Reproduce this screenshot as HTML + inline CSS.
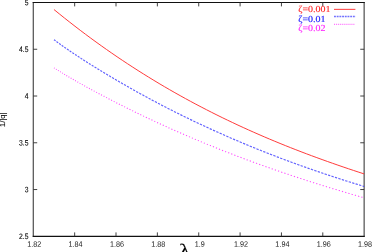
<!DOCTYPE html>
<html><head><meta charset="utf-8"><style>
html,body{margin:0;padding:0;background:#fff;}
body{width:372px;height:252px;overflow:hidden;}
svg{display:block;will-change:transform;}
.s{font-family:"Liberation Sans",sans-serif;font-size:7.85px;fill:#000;stroke:#000;stroke-width:0.1px;}
.x{stroke:none;fill:#1a1a1a;}
.k{font-family:"Liberation Serif",serif;font-size:9.2px;}
</style></head><body>
<svg width="372" height="252" viewBox="0 0 372 252">
<rect width="372" height="252" fill="#fff"/>
<path d="M33.3,2.0 V236.8 M364.15,2.0 V236.8" fill="none" stroke="#555" stroke-width="1.25"/>
<path d="M32.699999999999996,2.5 H364.75 M32.699999999999996,236.3 H364.75" fill="none" stroke="#111" stroke-width="1.15"/>
<path d="M74.66,236.3 v-3.9 M74.66,2.5 v3.9 M116.01,236.3 v-3.9 M116.01,2.5 v3.9 M157.37,236.3 v-3.9 M157.37,2.5 v3.9 M198.72,236.3 v-3.9 M198.72,2.5 v3.9 M240.08,236.3 v-3.9 M240.08,2.5 v3.9 M281.44,236.3 v-3.9 M281.44,2.5 v3.9 M322.79,236.3 v-3.9 M322.79,2.5 v3.9 M33.3,189.54 h3.9 M364.15,189.54 h-3.9 M33.3,142.78 h3.9 M364.15,142.78 h-3.9 M33.3,96.02 h3.9 M364.15,96.02 h-3.9 M33.3,49.26 h3.9 M364.15,49.26 h-3.9 " stroke="#2e2e2e" stroke-width="0.9" fill="none"/>
<g class="s">
<text class="x" transform="translate(34.25,246.7) rotate(0.06) scale(0.92,1)" text-anchor="middle">1.82</text>
<text class="x" transform="translate(75.61,246.7) rotate(0.06) scale(0.92,1)" text-anchor="middle">1.84</text>
<text class="x" transform="translate(116.96,246.7) rotate(0.06) scale(0.92,1)" text-anchor="middle">1.86</text>
<text class="x" transform="translate(158.32,246.7) rotate(0.06) scale(0.92,1)" text-anchor="middle">1.88</text>
<text class="x" transform="translate(199.67,246.7) rotate(0.06) scale(0.92,1)" text-anchor="middle">1.9</text>
<text class="x" transform="translate(241.03,246.7) rotate(0.06) scale(0.92,1)" text-anchor="middle">1.92</text>
<text class="x" transform="translate(282.39,246.7) rotate(0.06) scale(0.92,1)" text-anchor="middle">1.94</text>
<text class="x" transform="translate(323.74,246.7) rotate(0.06) scale(0.92,1)" text-anchor="middle">1.96</text>
<text class="x" transform="translate(365.10,246.7) rotate(0.06) scale(0.92,1)" text-anchor="middle">1.98</text>
<text transform="translate(28.45,239.05) rotate(0.06) scale(0.865,1)" text-anchor="end">2.5</text>
<text transform="translate(28.45,192.29) rotate(0.06) scale(0.865,1)" text-anchor="end">3</text>
<text transform="translate(28.45,145.53) rotate(0.06) scale(0.865,1)" text-anchor="end">3.5</text>
<text transform="translate(28.45,98.77) rotate(0.06) scale(0.865,1)" text-anchor="end">4</text>
<text transform="translate(28.45,52.01) rotate(0.06) scale(0.865,1)" text-anchor="end">4.5</text>
<text transform="translate(28.45,5.20) rotate(0.06) scale(0.865,1)" text-anchor="end">5</text>
<text transform="translate(4.9,119.7) rotate(-90) scale(1.08,1)" text-anchor="middle" style="font-size:7px;stroke-width:0.1px">1/|q|</text>
</g>
<text transform="translate(184.5,256.2) rotate(0.06) scale(1.28,1)" text-anchor="middle" style="font-family:'Liberation Serif',serif;font-size:18px;fill:#000;stroke:#000;stroke-width:0.08px">λ</text>
<path d="M53.98,9.54 L59.24,13.82 L64.49,18.04 L69.75,22.19 L75.01,26.28 L80.26,30.31 L85.52,34.27 L90.78,38.17 L96.04,42.00 L101.29,45.78 L106.55,49.50 L111.81,53.15 L117.06,56.75 L122.32,60.29 L127.58,63.78 L132.84,67.20 L138.09,70.57 L143.35,73.89 L148.61,77.15 L153.86,80.36 L159.12,83.52 L164.38,86.63 L169.64,89.68 L174.89,92.69 L180.15,95.64 L185.41,98.55 L190.66,101.41 L195.92,104.22 L201.18,106.98 L206.44,109.70 L211.69,112.38 L216.95,115.01 L222.21,117.60 L227.46,120.14 L232.72,122.64 L237.98,125.11 L243.24,127.53 L248.49,129.91 L253.75,132.26 L259.01,134.56 L264.26,136.83 L269.52,139.07 L274.78,141.26 L280.04,143.43 L285.29,145.55 L290.55,147.65 L295.81,149.71 L301.06,151.74 L306.32,153.74 L311.58,155.71 L316.84,157.65 L322.09,159.56 L327.35,161.45 L332.61,163.31 L337.86,165.14 L343.12,166.94 L348.38,168.72 L353.64,170.48 L358.89,172.21 L364.15,173.92" stroke="#ff3030" stroke-width="0.95" fill="none"/>
<path d="M53.98,39.67L54.79,40.28L55.61,40.90M56.53,41.58L57.35,42.19L58.18,42.79M59.10,43.46L59.93,44.06L60.76,44.66M61.70,45.33L62.54,45.92L63.38,46.51M64.32,47.17L65.17,47.76L66.01,48.35M66.96,49.00L67.82,49.59L68.67,50.17M69.63,50.82L70.49,51.41L71.35,51.99M72.32,52.64L73.18,53.22L74.05,53.79M75.02,54.44L75.90,55.02L76.77,55.59M77.75,56.24L78.63,56.81L79.52,57.39M80.51,58.03L81.39,58.61L82.28,59.18M83.28,59.82L84.17,60.40L85.06,60.97M86.07,61.61L86.97,62.18L87.87,62.75M88.88,63.39L89.78,63.96L90.69,64.53M91.71,65.17L92.62,65.74L93.53,66.31M94.56,66.95L95.47,67.51L96.39,68.08M97.42,68.72L98.35,69.29L99.27,69.85M100.31,70.49L101.24,71.06L102.17,71.62M103.21,72.26L104.14,72.82L105.08,73.39M106.13,74.02L107.07,74.58L108.01,75.15M109.07,75.78L110.01,76.34L110.95,76.90M112.02,77.53L112.97,78.10L113.92,78.66M114.99,79.29L115.94,79.85L116.90,80.41M117.97,81.03L118.93,81.59L119.89,82.15M120.97,82.78L121.93,83.33L122.90,83.89M123.98,84.51L124.95,85.07L125.92,85.62M127.01,86.24L127.98,86.80L128.96,87.35M130.05,87.97L131.03,88.52L132.01,89.07M133.11,89.69L134.09,90.24L135.07,90.79M136.18,91.41L137.16,91.95L138.15,92.50M139.26,93.11L140.25,93.66L141.24,94.20M142.35,94.82L143.35,95.36L144.34,95.90M145.46,96.51L146.46,97.05L147.46,97.59M148.58,98.20L149.58,98.74L150.59,99.27M151.71,99.88L152.72,100.41L153.72,100.95M154.86,101.55L155.86,102.08L156.87,102.62M158.01,103.21L159.02,103.74L160.03,104.27M161.17,104.87L162.19,105.40L163.20,105.93M164.35,106.52L165.37,107.04L166.39,107.57M167.53,108.16L168.55,108.68L169.58,109.20M170.73,109.79L171.75,110.31L172.78,110.83M173.93,111.41L174.96,111.93L175.99,112.44M177.15,113.02L178.18,113.54L179.21,114.05M180.37,114.63L181.40,115.14L182.44,115.65M183.60,116.22L184.64,116.73L185.67,117.24M186.84,117.80L187.88,118.31L188.92,118.81M190.09,119.38L191.13,119.88L192.17,120.38M193.34,120.95L194.39,121.45L195.43,121.94M196.61,122.50L197.66,123.00L198.70,123.49M199.88,124.05L200.93,124.54L201.98,125.03M203.16,125.58L204.21,126.07L205.26,126.56M206.45,127.11L207.50,127.60L208.55,128.08M209.74,128.62L210.79,129.11L211.85,129.59M213.04,130.13L214.10,130.61L215.15,131.09M216.34,131.62L217.40,132.10L218.46,132.58M219.66,133.11L220.72,133.58L221.78,134.05M222.98,134.58L224.04,135.05L225.10,135.52M226.30,136.05L227.37,136.51L228.43,136.98M229.63,137.50L230.70,137.96L231.77,138.42M232.97,138.94L234.04,139.40L235.11,139.86M236.31,140.37L237.38,140.83L238.45,141.28M239.66,141.79L240.73,142.25L241.80,142.70M243.01,143.20L244.08,143.65L245.15,144.10M246.36,144.60L247.44,145.05L248.51,145.49M249.72,145.99L250.80,146.43L251.88,146.87M253.09,147.37L254.17,147.81L255.25,148.25M256.46,148.74L257.54,149.17L258.62,149.61M259.84,150.09L260.92,150.52L262.00,150.96M263.21,151.44L264.30,151.87L265.38,152.29M266.60,152.77L267.68,153.20L268.76,153.62M269.98,154.10L271.07,154.52L272.15,154.94M273.37,155.41L274.46,155.83L275.55,156.25M276.77,156.71L277.85,157.13L278.94,157.54M280.17,158.01L281.25,158.42L282.34,158.83M283.57,159.29L284.66,159.69L285.75,160.10M286.97,160.56L288.06,160.96L289.15,161.37M290.38,161.82L291.47,162.22L292.56,162.62M293.79,163.07L294.88,163.47L295.97,163.86M297.20,164.31L298.30,164.70L299.39,165.09M300.62,165.54L301.71,165.93L302.81,166.32M304.04,166.75L305.13,167.14L306.23,167.53M307.46,167.96L308.56,168.35L309.65,168.73M310.89,169.16L311.98,169.54L313.08,169.92M314.31,170.35L315.41,170.73L316.51,171.10M317.74,171.53L318.84,171.90L319.94,172.27M321.17,172.69L322.27,173.06L323.37,173.43M324.61,173.85L325.71,174.22L326.81,174.59M328.04,175.00L329.15,175.36L330.25,175.73M331.48,176.14L332.58,176.50L333.69,176.86M334.92,177.26L336.03,177.62L337.13,177.98M338.37,178.38L339.47,178.74L340.57,179.09M341.81,179.49L342.91,179.84L344.02,180.19M345.26,180.59L346.36,180.94L347.47,181.29M348.71,181.68L349.81,182.02L350.91,182.37M352.16,182.76L353.26,183.10L354.37,183.44M355.61,183.83L356.71,184.17L357.82,184.51M359.06,184.89L360.17,185.23L361.27,185.56M362.52,185.94L363.33,186.19L364.15,186.43" stroke="#3838ff" stroke-opacity="0.8" stroke-width="1.15" fill="none"/>
<path d="M53.98,67.85L54.34,68.08L54.70,68.31M55.98,69.13L56.34,69.36L56.71,69.59M58.00,70.40L58.37,70.63L58.74,70.86M60.05,71.67L60.43,71.90L60.80,72.13M62.13,72.94L62.51,73.17L62.89,73.40M64.23,74.21L64.61,74.44L65.00,74.67M66.36,75.48L66.75,75.71L67.13,75.93M68.51,76.74L68.90,76.97L69.29,77.20M70.69,78.01L71.08,78.24L71.48,78.47M72.89,79.29L73.29,79.52L73.69,79.75M75.11,80.56L75.51,80.79L75.92,81.02M77.36,81.84L77.76,82.07L78.17,82.30M79.63,83.12L80.04,83.35L80.45,83.58M81.92,84.40L82.34,84.63L82.75,84.86M84.24,85.69L84.66,85.92L85.08,86.15M86.58,86.97L87.00,87.21L87.43,87.44M88.94,88.27L89.37,88.50L89.80,88.74M91.32,89.56L91.75,89.80L92.19,90.03M93.73,90.86L94.16,91.10L94.60,91.33M96.15,92.17L96.59,92.40L97.03,92.64M98.60,93.47L99.04,93.71L99.49,93.95M101.07,94.78L101.52,95.02L101.96,95.26M103.56,96.09L104.01,96.33L104.46,96.57M106.06,97.41L106.52,97.64L106.97,97.88M108.59,98.72L109.05,98.96L109.51,99.20M111.14,100.04L111.60,100.28L112.06,100.52M113.70,101.36L114.17,101.60L114.63,101.84M116.29,102.68L116.76,102.92L117.23,103.16M118.89,104.00L119.36,104.24L119.83,104.48M121.51,105.32L121.99,105.56L122.46,105.80M124.15,106.65L124.63,106.88L125.11,107.12M126.81,107.97L127.29,108.21L127.77,108.45M129.48,109.29L129.96,109.53L130.45,109.77M132.17,110.61L132.65,110.85L133.14,111.09M134.87,111.94L135.36,112.18L135.85,112.41M137.59,113.26L138.09,113.50L138.58,113.73M140.33,114.58L140.82,114.82L141.32,115.05M143.08,115.90L143.58,116.13L144.08,116.37M145.85,117.21L146.35,117.45L146.85,117.69M148.63,118.53L149.13,118.77L149.63,119.00M151.42,119.84L151.93,120.08L152.44,120.32M154.23,121.15L154.74,121.39L155.25,121.63M157.06,122.46L157.57,122.70L158.08,122.93M159.89,123.77L160.40,124.00L160.92,124.24M162.74,125.07L163.26,125.31L163.77,125.54M165.60,126.37L166.12,126.60L166.64,126.84M168.48,127.67L169.00,127.90L169.52,128.13M171.36,128.96L171.88,129.19L172.41,129.42M174.26,130.25L174.78,130.48L175.31,130.71M177.17,131.53L177.70,131.76L178.22,132.00M180.09,132.81L180.62,133.04L181.15,133.28M183.02,134.09L183.55,134.32L184.08,134.55M185.97,135.36L186.50,135.59L187.03,135.82M188.92,136.63L189.45,136.86L189.98,137.09M191.88,137.89L192.42,138.12L192.95,138.35M194.85,139.15L195.39,139.38L195.93,139.60M197.84,140.41L198.37,140.63L198.91,140.86M200.83,141.65L201.37,141.88L201.91,142.10M203.83,142.90L204.37,143.12L204.91,143.34M206.84,144.13L207.38,144.36L207.92,144.58M209.85,145.37L210.40,145.59L210.94,145.81M212.88,146.59L213.43,146.81L213.97,147.03M215.92,147.81L216.46,148.03L217.01,148.25M218.96,149.03L219.51,149.25L220.06,149.46M222.01,150.24L222.56,150.45L223.11,150.67M225.07,151.44L225.62,151.66L226.17,151.87M228.13,152.64L228.68,152.85L229.24,153.07M231.20,153.83L231.76,154.04L232.31,154.26M234.28,155.01L234.84,155.23L235.39,155.44M237.37,156.19L237.92,156.40L238.48,156.61M240.46,157.36L241.02,157.57L241.58,157.78M243.56,158.53L244.12,158.74L244.68,158.95M246.66,159.69L247.22,159.90L247.78,160.10M249.77,160.84L250.34,161.05L250.90,161.25M252.89,161.99L253.45,162.19L254.01,162.40M256.01,163.13L256.58,163.33L257.14,163.54M259.14,164.26L259.70,164.46L260.27,164.67M262.27,165.39L262.84,165.59L263.40,165.79M265.41,166.51L265.98,166.71L266.54,166.91M268.55,167.62L269.12,167.82L269.69,168.02M271.70,168.73L272.27,168.92L272.84,169.12M274.85,169.83L275.42,170.02L275.99,170.22M278.01,170.92L278.58,171.11L279.15,171.31M281.17,172.00L281.74,172.20L282.31,172.39M284.34,173.08L284.91,173.28L285.48,173.47M287.51,174.16L288.08,174.35L288.65,174.54M290.68,175.22L291.26,175.41L291.83,175.60M293.86,176.28L294.43,176.47L295.01,176.66M297.04,177.33L297.62,177.52L298.19,177.71M300.23,178.38L300.80,178.57L301.38,178.75M303.42,179.42L303.99,179.60L304.57,179.79M306.61,180.45L307.19,180.64L307.76,180.82M309.81,181.48L310.38,181.66L310.96,181.84M313.01,182.49L313.58,182.68L314.16,182.86M316.21,183.51L316.79,183.69L317.36,183.87M319.41,184.51L319.99,184.69L320.57,184.87M322.62,185.51L323.20,185.69L323.78,185.87M325.83,186.50L326.41,186.68L326.99,186.86M329.05,187.49L329.63,187.67L330.21,187.84M332.27,188.47L332.85,188.64L333.42,188.82M335.49,189.44L336.07,189.62L336.65,189.79M338.71,190.41L339.29,190.58L339.87,190.75M341.93,191.37L342.51,191.54L343.09,191.71M345.16,192.32L345.74,192.49L346.32,192.66M348.39,193.27L348.97,193.44L349.55,193.61M351.62,194.21L352.20,194.38L352.78,194.55M354.85,195.14L355.44,195.31L356.02,195.48M358.09,196.07L358.67,196.24L359.26,196.40M361.33,196.99L361.91,197.16L362.49,197.32" stroke="#ff30ff" stroke-opacity="0.9" stroke-width="1.05" fill="none"/>
<g class="k">
<text transform="translate(298.3,12.0) rotate(0.06) scale(1.085,1)" fill="#ff2020" stroke="#ff2020" stroke-width="0.12">ζ=0.001</text>
<text transform="translate(298.3,21.9) rotate(0.06) scale(1.085,1)" fill="#2020ff" stroke="#2020ff" stroke-width="0.17">ζ=0.01</text>
<text transform="translate(298.3,31.0) rotate(0.06) scale(1.085,1)" fill="#ff20ff" stroke="#ff20ff" stroke-width="0.12">ζ=0.02</text>
</g>
<path d="M334,9.35 H355.4" stroke="#ff3030" stroke-width="0.95"/>
<path d="M334,16.45 H355.7" stroke="#3c3cff" stroke-opacity="0.72" stroke-width="1.5" stroke-dasharray="1.9 0.8"/>
<path d="M334,24.4 H354.3" stroke="#ff30ff" stroke-opacity="0.85" stroke-width="1.2" stroke-dasharray="0.8 1.15"/>
</svg>
</body></html>
